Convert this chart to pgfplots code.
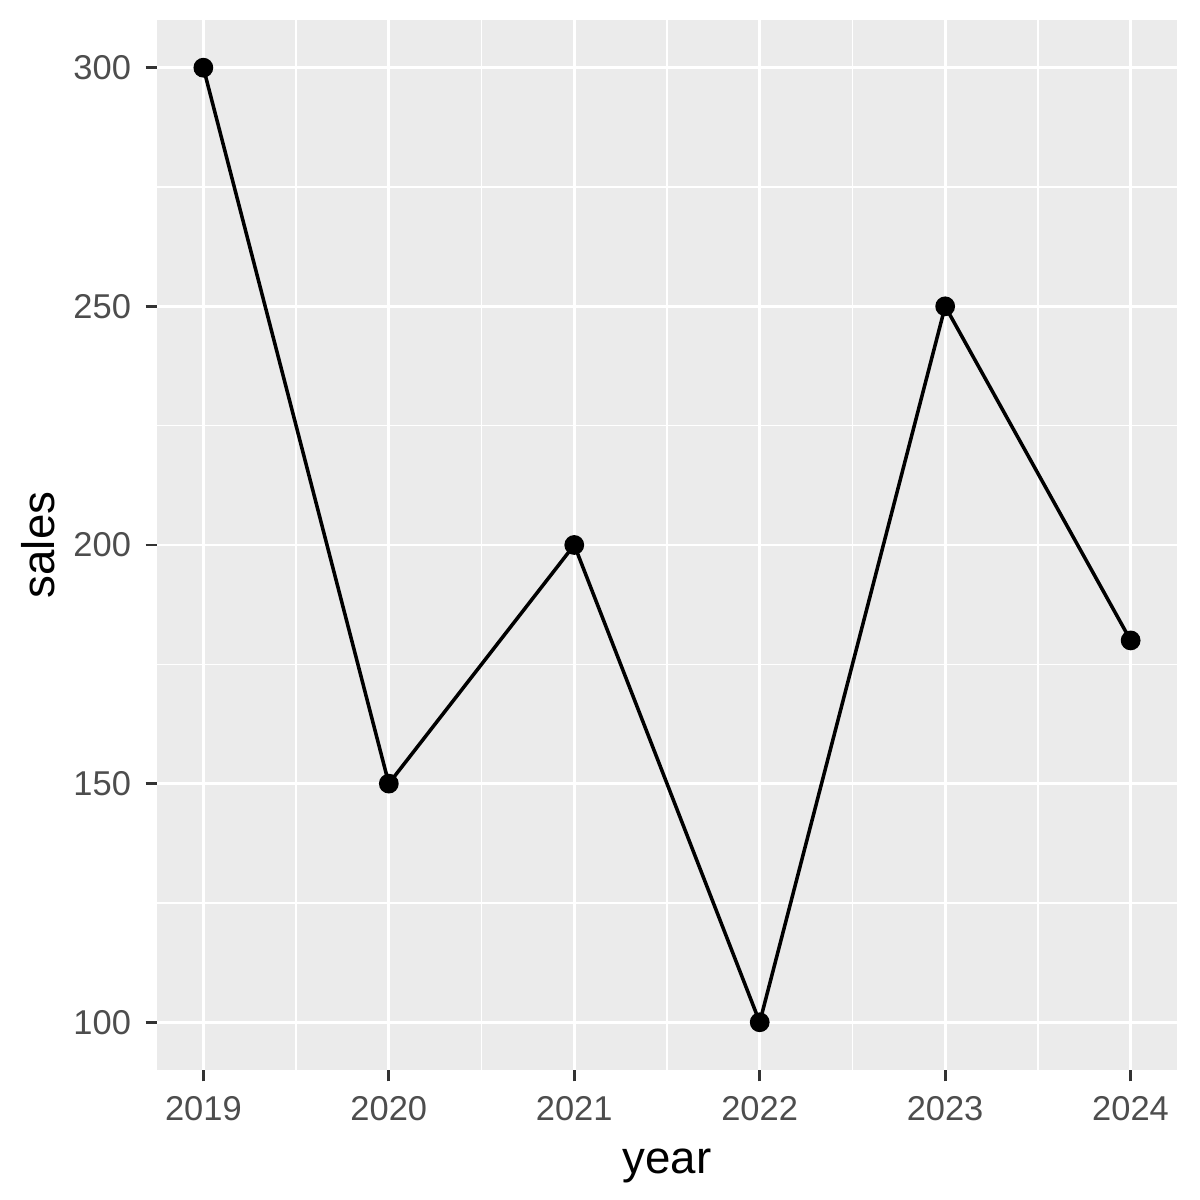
\documentclass[border=0pt]{standalone}
\usepackage{pgfplots}
\pgfplotsset{compat=1.18}
\usepackage{fontspec}
\setmainfont{Liberation Sans}
\definecolor{panelbg}{RGB}{235,235,235}
\definecolor{gray20}{RGB}{51,51,51}
\definecolor{gray30}{RGB}{77,77,77}
\begin{document}
\begin{tikzpicture}[x=1pt,y=1pt]
% page = 1200 px square, 1 px = 0.241 pt
\path[use as bounding box] (0,0) rectangle (289.08,289.08);
\begin{axis}[
  at={(37.82pt,31.32pt)}, anchor=south west,
  scale only axis, width=245.72pt, height=252.95pt,
  xmin=2018.75, xmax=2024.25, ymin=90, ymax=310,
  axis background/.style={fill=panelbg},
  axis line style={draw=none},
  xtick={2019,...,2024}, ytick={100,150,...,300},
  minor xtick={2019.5,2020.5,...,2023.5},
  minor ytick={125,175,225,275},
  xtick pos=bottom, ytick pos=left,
  xticklabel style={/pgf/number format/1000 sep={}},
  /pgf/number format/assume math mode=true,
  grid=both,
  major grid style={white, line width=0.7pt},
  minor grid style={white, line width=0.35pt},
  tick align=outside, major tick length=2.75pt, minor tick length=0pt,
  tick style={gray20, line width=0.7pt},
  ticklabel style={font=\fontsize{8.3}{10}\selectfont, text=gray30},
  xlabel={year}, ylabel={sales},
  label style={font=\fontsize{11}{13}\selectfont, text=black},
  ylabel style={yshift=-2.5pt},
  clip=false,
]
\addplot[black, line width=0.85pt, mark=*, mark size=1.95pt] coordinates {
  (2019,300) (2020,150) (2021,200) (2022,100) (2023,250) (2024,180)
};
\end{axis}
\end{tikzpicture}
\end{document}
